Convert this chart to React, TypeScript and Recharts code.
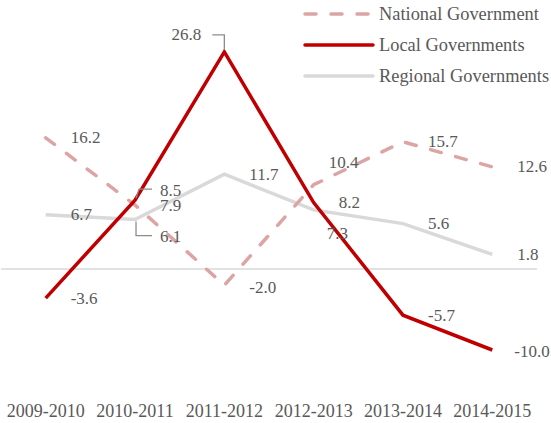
import {
  LabelList,
  Legend,
  Line,
  LineChart,
  ReferenceLine,
  XAxis,
  YAxis,
} from "recharts";

const years = ["2009-2010", "2010-2011", "2011-2012", "2012-2013", "2013-2014", "2014-2015"];
const national = [16.2, 7.9, -2.0, 10.4, 15.7, 12.6];
const local = [-3.6, 8.5, 26.8, 8.2, -5.7, -10.0];
const regional = [6.7, 6.1, 11.7, 7.3, 5.6, 1.8];

const data = years.map((year, i) => ({
  year,
  national: national[i],
  local: local[i],
  regional: regional[i],
}));

const FONT = "'Liberation Serif', 'Times New Roman', serif";
const TEXT = "#595959";
const RED = "#c00000";
const PINK = "#dda4a4";
const GREY = "#d9d9d9";
const LEADER = "#8c8c8c";

type Offset = {dx: number; dy: number; leader?: number[][]; anchor?: "start" | "end"};

// default: label to the right of the point
const DEFAULT: Offset = {dx: 25, dy: 0};

// hand-placed labels, keyed by index
const offsets: Record<string, Record<number, Offset>> = {
  local: {
    1: {dx: 25, dy: -10, leader: [[17, -11], [4, -11], [1, -2]]},
    2: {dx: -23, dy: -17, anchor: "end", leader: [[-12, -17], [0, -17], [0, -2]]},
    5: {dx: 22, dy: 1},
  },
  national: {
    2: {dx: 25, dy: 2},
    3: {dx: 15, dy: -22},
  },
  regional: {
    1: {dx: 25, dy: 17, leader: [[1, 2], [1, 16], [17, 16]]},
    3: {dx: 13, dy: 24},
  },
};

function makeLabel(series: string) {
  return (props: any) => {
    const {x, y, value, index} = props;
    const o = offsets[series][index] ?? DEFAULT;
    return (
      <g>
        {o.leader && (
          <polyline
            points={o.leader.map(([a, b]) => `${x + a},${y + b}`).join(" ")}
            fill="none"
            stroke={LEADER}
            strokeWidth={1.3}
          />
        )}
        <text
          x={x + o.dx}
          y={y + o.dy}
          textAnchor={o.anchor ?? "start"}
          dominantBaseline="central"
          fill={TEXT}
          fontSize={17}
          fontFamily={FONT}
        >
          {Number(value).toFixed(1)}
        </text>
      </g>
    );
  };
}

const legendItems = [
  {name: "National Government", color: PINK, dash: "11 15"},
  {name: "Local Governments", color: RED, dash: undefined},
  {name: "Regional Governments", color: GREY, dash: undefined},
];

function LegendBox() {
  return (
    <svg width={251} height={90}>
      {legendItems.map((it, i) => {
        const y = 14 + i * 31;
        return (
          <g key={it.name}>
            <line
              x1={6}
              x2={74}
              y1={y}
              y2={y}
              stroke={it.color}
              strokeWidth={3.5}
              strokeDasharray={it.dash}
              strokeLinecap="round"
            />
            <text
              x={80}
              y={y}
              dominantBaseline="central"
              fill={TEXT}
              fontSize={18.4}
              fontFamily={FONT}
            >
              {it.name}
            </text>
          </g>
        );
      })}
    </svg>
  );
}

export default function App() {
  return (
    <div style={{position: "absolute", left: 0, top: 0, width: 551, height: 423, background: "#fff"}}>
      <LineChart
        width={551}
        height={423}
        data={data}
        margin={{top: 26, right: 14, bottom: 0, left: 1}}
        style={{fontFamily: FONT}}
      >
        <XAxis
          dataKey="year"
          scale="point"
          padding={{left: 44.7, right: 44.7}}
          axisLine={false}
          tickLine={false}
          tickSize={0}
          tickMargin={14}
          height={32.5}
          interval={0}
          tick={{fill: TEXT, fontSize: 18, fontFamily: FONT}}
        />
        <YAxis hide type="number" domain={[-15, 30]} allowDataOverflow />
        <ReferenceLine y={0} stroke={GREY} strokeWidth={1.5} />
        <Legend
          layout="vertical"
          align="center"
          verticalAlign="middle"
          wrapperStyle={{position: "absolute", left: 299, top: 0, width: 251, height: 90}}
          content={() => <LegendBox />}
        />
        <Line
          dataKey="regional"
          stroke={GREY}
          strokeWidth={3.5}
          dot={false}
          isAnimationActive={false}
        >
          <LabelList dataKey="regional" content={makeLabel("regional")} />
        </Line>
        <Line
          dataKey="national"
          stroke={PINK}
          strokeWidth={3.5}
          strokeDasharray="11 15"
          strokeLinecap="round"
          dot={false}
          isAnimationActive={false}
        >
          <LabelList dataKey="national" content={makeLabel("national")} />
        </Line>
        <Line
          dataKey="local"
          stroke={RED}
          strokeWidth={3.5}
          dot={false}
          isAnimationActive={false}
        >
          <LabelList dataKey="local" content={makeLabel("local")} />
        </Line>
      </LineChart>
    </div>
  );
}
